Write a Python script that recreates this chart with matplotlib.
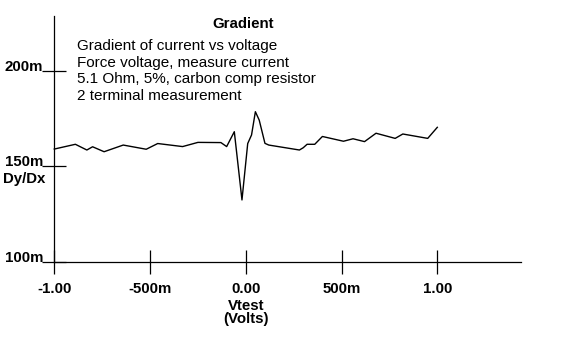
import matplotlib
matplotlib.use('Agg')
import matplotlib.pyplot as plt
from matplotlib.ticker import FixedLocator

plt.rcParams['font.family'] = ['Liberation Sans', 'DejaVu Sans']

# data
vtest = [-1.00, -0.89, -0.83, -0.80, -0.74, -0.64, -0.52, -0.46, -0.33, -0.25,
         -0.13, -0.10, -0.06, -0.02, 0.01, 0.03, 0.05, 0.07, 0.10, 0.12,
         0.28, 0.30, 0.32, 0.36, 0.40, 0.51, 0.56, 0.62, 0.68, 0.78,
         0.82, 0.95, 1.00]
gradient = [0.1591, 0.1616, 0.1586, 0.1603, 0.1577, 0.1612, 0.1590, 0.1620, 0.1604, 0.1626,
            0.1625, 0.1604, 0.1682, 0.1324, 0.1620, 0.1665, 0.1787, 0.1743, 0.1621, 0.1612,
            0.1586, 0.1598, 0.1616, 0.1616, 0.1657, 0.1632, 0.1645, 0.1630, 0.1674, 0.1647,
            0.1670, 0.1647, 0.1705]

x_ticks = [-1.0, -0.5, 0.0, 0.5, 1.0]
x_labels = ['-1.00', '-500m', '0.00', '500m', '1.00']
y_ticks = [0.100, 0.150, 0.200]
y_labels = ['100m', '150m', '200m']

notes = ['Gradient of current vs voltage',
         'Force voltage, measure current',
         '5.1 Ohm, 5%, carbon comp resistor',
         '2 terminal measurement']

W, H = 577, 356


def fx(px):
    return px / W


def fy(py):
    return 1 - py / H


fig = plt.figure(figsize=(W / 100, H / 100), dpi=100)
ax = fig.add_axes([fx(38.98), fy(280.76), 494.07 / W, 270.65 / H])
ax.set_xlim(-1.08, 1.50)
ax.set_ylim(0.090, 0.232)

ax.plot(vtest, gradient, color='black', lw=1.0)

for s in ['top', 'right']:
    ax.spines[s].set_visible(False)
ax.spines['left'].set_position(('data', -1.0))
ax.spines['left'].set_bounds(0.100, 0.229)
ax.spines['bottom'].set_position(('data', 0.100))
ax.spines['bottom'].set_bounds(-1.0, 1.435)
for s in ['left', 'bottom']:
    ax.spines[s].set_linewidth(0.9)

ax.xaxis.set_major_locator(FixedLocator(x_ticks))
ax.set_xticklabels(x_labels, fontweight='bold', fontsize=10.8)
ax.yaxis.set_major_locator(FixedLocator(y_ticks))
ax.set_yticklabels(y_labels, fontweight='bold', fontsize=10.8, va='baseline')
ax.tick_params(axis='both', direction='inout', length=17.3, width=0.9)
ax.tick_params(axis='x', pad=6.0)
ax.tick_params(axis='y', pad=-0.5)

ax.set_xlabel('Vtest\n(Volts)', fontweight='bold', fontsize=10.8, linespacing=0.95, labelpad=2)
# centre the axis title under 0.00 like the original
ax.xaxis.label.set_x((0.0 - ax.get_xlim()[0]) / (ax.get_xlim()[1] - ax.get_xlim()[0]))

fig.text(fx(3), fy(183), 'Dy/Dx', fontweight='bold', fontsize=10.8, ha='left', va='baseline')
fig.text(fx(243.5), fy(27.7), 'Gradient', fontweight='bold', fontsize=10.8, ha='center', va='baseline')
for i, line in enumerate(notes):
    fig.text(fx(76.7), fy(50 + i * 16.7), line, fontsize=11, ha='left', va='baseline')

fig.savefig('out.png', dpi=100)
